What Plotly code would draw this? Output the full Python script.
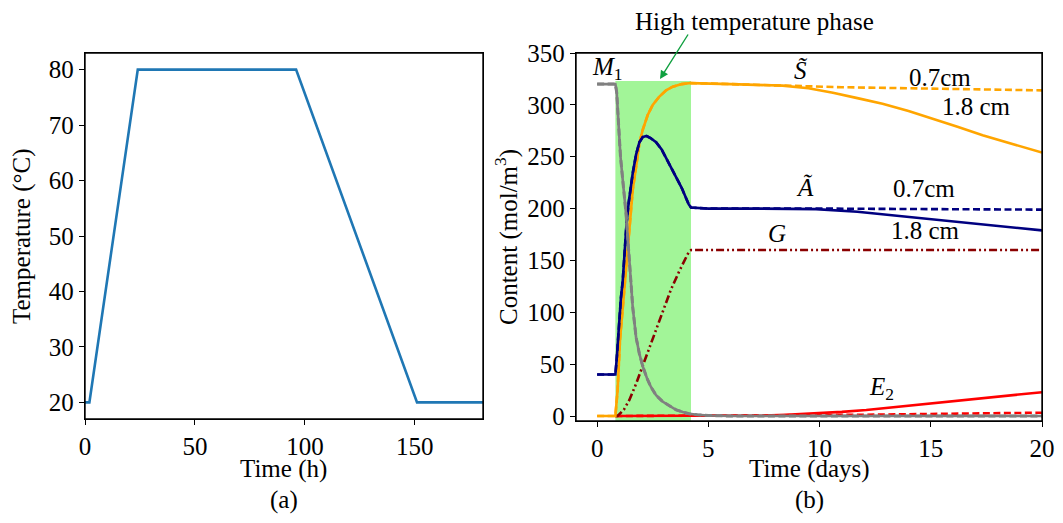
import plotly.graph_objects as go

# page body has an 8px margin: lay the figure out in reference pixels shifted by 8
OFF = 8
W, H = 1063 - 2 * OFF, 523 - 2 * OFF
FONT = "Liberation Serif, Times New Roman, serif"
FS = 25

# ---------------- data: panel (a) ----------------
time_h = [0, 2, 24, 96, 151, 181]
temp_c = [20, 20, 80, 80, 20, 20]

# ---------------- data: panel (b) ----------------
m1_x = [0, 0.82, 0.88, 0.95, 1.05, 1.15, 1.3, 1.45, 1.6, 1.75, 1.9, 2.05, 2.25, 2.42, 2.65,
        2.94, 3.25, 3.55, 3.85, 4.14, 4.5, 5, 6, 20]
m1_y = [320, 320, 312, 285, 250, 228, 195, 150, 105, 76, 60, 48, 36, 28, 20,
        14, 9.5, 6, 3.8, 2.2, 1.2, 0.5, 0, 0]

s_x = [0, 0.82, 0.92, 1.03, 1.19, 1.45, 1.6, 1.75, 1.9, 2.05, 2.27, 2.5, 2.8, 3.1, 3.4, 3.8,
       4.2, 6, 8.34, 9.5, 10.6, 11.7, 12.83, 14, 15.08, 16.2, 17.33, 18.6, 20]
s_y_18 = [0, 0, 25, 74, 114, 180, 218, 240, 263, 276, 290, 300, 308, 314, 317.5, 320,
          321, 320, 318.5, 316, 311.7, 306.5, 301, 294, 286.8, 279, 270.7, 262.5, 254]
s_x_07 = [0, 0.82, 0.92, 1.03, 1.19, 1.45, 1.6, 1.75, 1.9, 2.05, 2.27, 2.5, 2.8, 3.1, 3.4, 3.8,
          4.2, 6, 8.34, 11, 14, 17, 20]
s_y_07 = [0, 0, 25, 74, 114, 180, 218, 240, 263, 276, 290, 300, 308, 314, 317.5, 320,
          321, 320, 318.5, 317, 316, 315, 314]

a_x = [0, 0.82, 0.88, 1.0, 1.07, 1.15, 1.22, 1.32, 1.42, 1.52, 1.6, 1.75, 1.9, 2.05, 2.22,
       2.4, 2.65, 2.9, 3.1, 3.3, 3.55, 3.8, 4.0, 4.12, 4.22, 5, 7, 9.84, 11.7, 13.58, 15,
       16.58, 18.3, 20]
a_y_18 = [40, 40, 55, 95, 114, 130, 158, 185, 206, 222, 234, 252, 264, 269, 270,
          268, 264, 257, 249, 240, 230, 220, 210, 204, 201, 200, 200, 199.5, 197, 193, 190,
          186.7, 183, 179]
a_x_07 = [0, 0.82, 0.88, 1.0, 1.07, 1.15, 1.22, 1.32, 1.42, 1.52, 1.6, 1.75, 1.9, 2.05, 2.22,
          2.4, 2.65, 2.9, 3.1, 3.3, 3.55, 3.8, 4.0, 4.12, 4.22, 5, 7, 9.84, 20]
a_y_07 = [40, 40, 55, 95, 114, 130, 158, 185, 206, 222, 234, 252, 264, 269, 270,
          268, 264, 257, 249, 240, 230, 220, 210, 204, 201, 200, 200, 200, 199]

g_x = [0.82, 0.92, 1.2, 1.45, 1.75, 2.05, 2.35, 2.65, 3.0, 3.32, 3.7, 4.14, 4.22, 20]
g_y = [0, 0, 6, 15.5, 31, 48, 65, 82, 102, 122, 140, 159, 160, 160]

e_x = [0.82, 6, 7.5, 8.5, 9.84, 11, 12.1, 13.5, 15.08, 16.2, 17.33, 18.6, 20]
e_y_18 = [0, 0, 0.5, 1.2, 2.6, 4, 5.8, 8.8, 12.3, 14.6, 17, 19.8, 23]
e_x_07 = [0.82, 9, 12, 15, 18, 20]
e_y_07 = [0, 0.5, 1.2, 2.0, 2.7, 3.2]

phase_start, phase_end, phase_top = 0.82, 4.22, 323

# axis ranges
XR_A, YR_A = [0, 181], [17, 83]
XR_B, YR_B = [-0.95, 20], [-4.8, 350]

# ---------------- colours ----------------
C_ORANGE = "#FFA500"
C_NAVY = "#000080"
C_GRAY = "#808080"
C_DRED = "#8B0000"
C_RED = "#FF0000"
C_BLUE = "#1f77b4"

fig = go.Figure()

# panel (a)
fig.add_trace(go.Scatter(x=time_h, y=temp_c, mode="lines",
                         line=dict(color=C_BLUE, width=2.6), xaxis="x", yaxis="y"))

DASH = "7px,3.5px"
DDOT = "8px,3px,2px,3px,2px,3px"
LW = 2.6


def add(x, y, color, dash="solid", width=LW):
    fig.add_trace(go.Scatter(x=x, y=y, mode="lines", xaxis="x2", yaxis="y2",
                             line=dict(color=color, width=width, dash=dash)))


add(e_x, e_y_18, C_RED)
add(e_x_07, e_y_07, C_RED, DASH)
add(g_x, g_y, C_DRED, DDOT)
add(s_x, s_y_18, C_ORANGE)
add(s_x_07, s_y_07, C_ORANGE, DASH)
add(a_x, a_y_18, C_NAVY)
add(a_x_07, a_y_07, C_NAVY, DASH)
add(m1_x, m1_y, C_GRAY)
add(m1_x, m1_y, C_GRAY, DASH, 3)

# axes frames drawn as unclipped traces along the axis ranges
for xa, ya, xr, yr in (("x", "y", XR_A, YR_A), ("x2", "y2", XR_B, YR_B)):
    fig.add_trace(go.Scatter(x=[xr[0], xr[1], xr[1], xr[0], xr[0]],
                             y=[yr[0], yr[0], yr[1], yr[1], yr[0]],
                             mode="lines", xaxis=xa, yaxis=ya, cliponaxis=False,
                             hoverinfo="skip", line=dict(color="black", width=1.4)))

# high temperature phase
fig.add_shape(type="rect", xref="x2", yref="y2", x0=phase_start, x1=phase_end,
              y0=-4.8, y1=phase_top, fillcolor="rgb(162,245,152)",
              line=dict(width=0), layer="below")


def px(xp):
    return (xp - OFF) / W


def py(yp):
    return 1 - (yp - OFF) / H


axis_common = dict(showgrid=False, zeroline=False, showline=True, linecolor="black",
                   linewidth=1.3, mirror=True, ticks="outside", ticklen=5, tickwidth=1.2,
                   automargin=False,
                   tickcolor="black", tickfont=dict(family=FONT, size=FS, color="black"))

fig.update_layout(
    template="none",
    width=W, height=H, margin=dict(l=0, r=0, t=0, b=0, pad=0),
    paper_bgcolor="white", plot_bgcolor="white", showlegend=False,
    xaxis=dict(domain=[px(85), px(483)], range=XR_A, tickvals=[0, 50, 100, 150],
               anchor="y", **axis_common),
    yaxis=dict(domain=[py(419), py(53)], range=YR_A, tickvals=[20, 30, 40, 50, 60, 70, 80],
               anchor="x", **axis_common),
    xaxis2=dict(domain=[px(576), px(1042)], range=XR_B, tickvals=[0, 5, 10, 15, 20],
                anchor="y2", **axis_common),
    yaxis2=dict(domain=[py(421), py(53)], range=YR_B,
                tickvals=[0, 50, 100, 150, 200, 250, 300, 350], anchor="x2", **axis_common),
)

ann = []


def ptext(text, x, y, size=FS, angle=0):
    ann.append(dict(text=text, x=px(x), y=py(y), xref="paper", yref="paper",
                    showarrow=False, textangle=angle, xanchor="center", yanchor="middle",
                    font=dict(family=FONT, size=size, color="black")))


def dtext(text, x, y, size=FS):
    ann.append(dict(text=text, x=x, y=y, xref="x2", yref="y2", showarrow=False,
                    xanchor="center", yanchor="middle",
                    font=dict(family=FONT, size=size, color="black")))


ptext("Time (h)", 284, 469)
ptext("(a)", 284, 500)
ptext("Temperature (°C)", 22, 236, angle=-90)
ptext("Time (days)", 809, 469)
ptext("(b)", 809, 500)
ptext("Content (mol/m<sup>3</sup>)", 506, 237, angle=-90)
ptext("High temperature phase", 754, 21, size=25)

dtext("<i>M</i><sub>1</sub>", 0.47, 335)
dtext("<i>S̃</i>", 9.16, 333)
dtext("0.7cm", 15.4, 326)
dtext("1.8 cm", 17.06, 298)
dtext("<i>Ã</i>", 9.36, 220)
dtext("0.7cm", 14.7, 219)
dtext("<i>G</i>", 8.08, 176)
dtext("1.8 cm", 14.75, 179)
dtext("<i>E</i><sub>2</sub>", 12.8, 27)

ann.append(dict(x=px(660), y=py(79), xref="paper", yref="paper",
                ax=29, ay=-46, axref="pixel", ayref="pixel", text="", showarrow=True,
                arrowhead=2, arrowsize=1.2, arrowwidth=1.4, arrowcolor="#10A040"))

fig.update_layout(annotations=ann)
fig.write_html("out.html")
